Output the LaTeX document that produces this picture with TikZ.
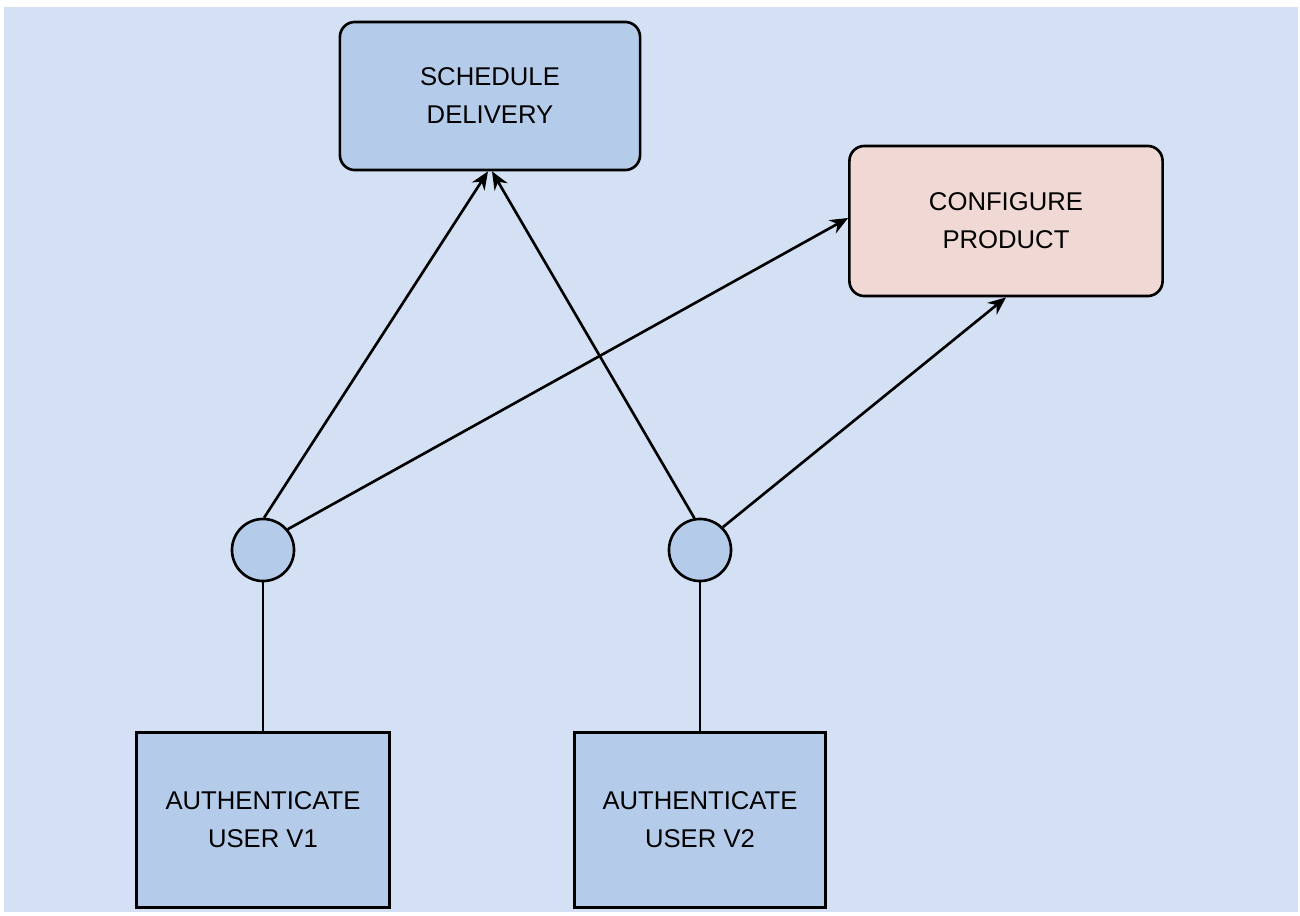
\documentclass[tikz,border=0pt]{standalone}
\usepackage{fontspec}
\setmainfont{Liberation Sans}
\usetikzlibrary{arrows.meta}
\definecolor{bgblue}{HTML}{D4E1F4}
\definecolor{boxblue}{HTML}{B4CCEA}
\definecolor{boxpink}{HTML}{F0D9D4}
\tikzset{
  task/.style={draw, line width=0.75pt, rounded corners=0.15cm, fill=boxblue, align=center,
    minimum width=3cm, minimum height=1.48cm, font=\fontsize{7.3}{10.8}\selectfont},
  userbox/.style={draw, line width=0.75pt, fill=boxblue, align=center,
    minimum width=2.53cm, minimum height=1.75cm, font=\fontsize{7.3}{10.8}\selectfont},
  junction/.style={draw, line width=0.75pt, circle, fill=boxblue, minimum size=0.62cm, inner sep=0pt},
  link/.style={line width=0.75pt, -{Stealth[length=0.18cm,width=0.15cm]}}
}
\begin{document}
\begin{tikzpicture}[x=0.01cm, y=-0.01cm]
  \useasboundingbox (0,0) rectangle (1300,915);
  \fill[bgblue] (4,7) rectangle (1298,912);
  % use cases
  \node[task] (schedule) at (490,96) {SCHEDULE\\DELIVERY};
  \node[task, fill=boxpink, minimum width=3.13cm, minimum height=1.5cm] (configure) at (1006,221) {CONFIGURE\\PRODUCT};
  % joins
  \node[junction] (j1) at (263,550) {};
  \node[junction] (j2) at (700,550) {};
  % clients
  \node[userbox] (auth1) at (263,820) {AUTHENTICATE\\USER V1};
  \node[userbox, minimum width=2.51cm] (auth2) at (700,820) {AUTHENTICATE\\USER V2};
  \draw[line width=0.75pt] (auth1) -- (j1);
  \draw[line width=0.75pt] (auth2) -- (j2);
  \draw[link] (j1.88) -- ([xshift=-0.02cm]schedule.south);
  \draw[link] (j2.100) -- ([xshift=0.02cm]schedule.south);
  \draw[link] (j1.40) -- ([yshift=0.03cm]configure.west);
  \draw[link] (j2.45) -- (configure.south);
\end{tikzpicture}
\end{document}
